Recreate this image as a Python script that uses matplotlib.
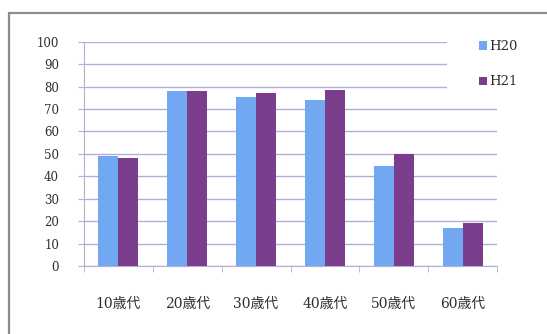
import matplotlib
matplotlib.use("Agg")
import matplotlib.pyplot as plt
import numpy as np
from matplotlib.patches import Rectangle

categories = ["10歳代", "20歳代", "30歳代", "40歳代", "50歳代", "60歳代"]
h20 = [49, 78, 75.3, 74, 44.6, 16.8]
h21 = [48, 78, 77, 78.5, 50, 19]
series_names = ["H20", "H21"]
yticks = [0, 10, 20, 30, 40, 50, 60, 70, 80, 90, 100]

c_blue = "#72A8F2"
c_purple = "#7A3E8C"
grid_c = "#B4ACDA"
txt_c = "#2E2E2E"

fig = plt.figure(figsize=(5.47, 3.34), dpi=100)
fig.patch.set_facecolor("white")
ax = fig.add_axes([84/547, 1-266/334, (497-84)/547, (266-41.7)/334])

x = np.arange(len(categories))
w = 0.29
ax.bar(x - w/2, h20, width=w, color=c_blue, label=series_names[0], zorder=3)
ax.bar(x + w/2, h21, width=w, color=c_purple, label=series_names[1], zorder=3)

ax.set_xlim(-0.5, len(categories) - 0.5)
ax.set_ylim(0, 100)
ax.set_yticks(yticks)
ax.set_yticklabels([str(v) for v in yticks], family="DejaVu Serif", fontsize=8.5, color=txt_c)
ax.yaxis.grid(True, color=grid_c, linewidth=1, zorder=0)
ax.tick_params(axis="y", length=4, color=grid_c, pad=14)

ax.set_xticks(x)
ax.set_xticklabels(categories, family=["DejaVu Serif", "Noto Sans CJK JP"], fontsize=10, color=txt_c)
ax.tick_params(axis="x", which="major", length=0, pad=22)
ax.set_xticks(np.arange(-0.5, len(categories), 1), minor=True)
ax.tick_params(axis="x", which="minor", length=4, color=grid_c)

for s in ["top", "right"]:
    ax.spines[s].set_visible(False)
ax.spines["left"].set_color(grid_c)
ax.spines["bottom"].set_color(grid_c)

# white area behind the legend (hides the gridline ends)
ax.add_patch(Rectangle((447/547, 1-95/334), 60/547, 65/334, transform=fig.transFigure,
                       facecolor="white", edgecolor="none", zorder=4, clip_on=False))

leg = fig.legend(loc="upper left", bbox_to_anchor=(479/547, 1-40/334),
                 frameon=False,
                 prop={"family": "DejaVu Serif", "size": 9.5},
                 handlelength=0.6, handleheight=0.6, handletextpad=0.2,
                 labelspacing=1.7, borderpad=0, borderaxespad=0)
for t in leg.get_texts():
    t.set_color(txt_c)
leg.set_zorder(5)

fig.patches.append(Rectangle((9/547, -0.1), 1.1, 1 - 13/334 + 0.1, transform=fig.transFigure,
                             fill=False, edgecolor="#8C8C8C", linewidth=1.6, clip_on=False))

fig.savefig("out.png", dpi=100, facecolor="white")
